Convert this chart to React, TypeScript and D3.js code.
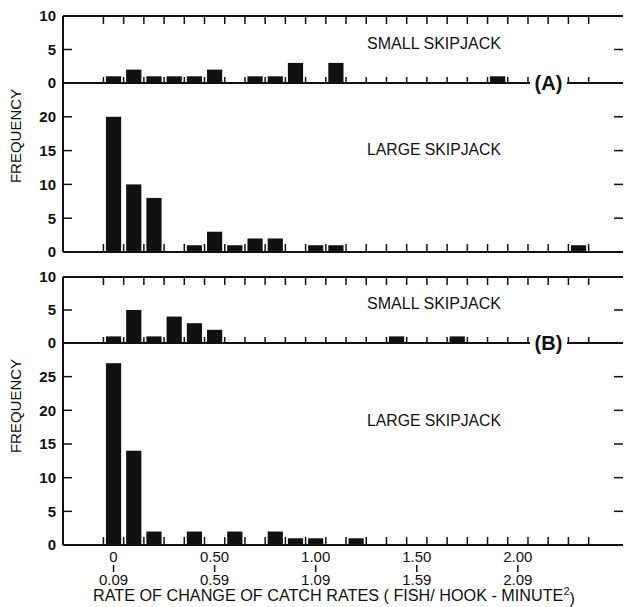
import React from "react";
import * as d3 from "d3";

// frequency per 0.10-wide class (class i covers i*0.1 .. i*0.1+0.09)
const smallA = [1, 2, 1, 1, 1, 2, 0, 1, 1, 3, 0, 3, 0, 0, 0, 0, 0, 0, 0, 1];
const largeA = [20, 10, 8, 0, 1, 3, 1, 2, 2, 0, 1, 1, 0, 0, 0, 0, 0, 0, 0, 0, 0, 0, 0, 1];
const smallB = [1, 5, 1, 4, 3, 2, 0, 0, 0, 0, 0, 0, 0, 0, 1, 0, 0, 1];
const largeB = [27, 14, 2, 0, 2, 0, 2, 0, 2, 1, 1, 0, 1];

const xTopLabels = ["0", "0.50", "1.00", "1.50", "2.00"];
const xBottomLabels = ["0.09", "0.59", "1.09", "1.59", "2.09"];
const xLabelBins = [0, 5, 10, 15, 20];
const binEdges = d3.range(0, 25);

const font = "'Liberation Sans', Arial, sans-serif";
const ink = "#111";

const left = 63;
const right = 623;
const x = d3.scaleLinear().domain([-0.2, 2.57]).range([left, right]);
const binW = x(0.1) - x(0);

const panels = [
  { data: smallA, yMax: 10, top: 16, bottom: 83, ticks: [0, 5, 10], title: "SMALL SKIPJACK", titleY: 43, small: true, tag: "(A)" },
  { data: largeA, yMax: 25, top: 83, bottom: 252, ticks: [0, 5, 10, 15, 20], title: "LARGE SKIPJACK", titleY: 149, small: false, tag: "" },
  { data: smallB, yMax: 10, top: 277, bottom: 343, ticks: [0, 5, 10], title: "SMALL SKIPJACK", titleY: 303, small: true, tag: "(B)" },
  { data: largeB, yMax: 30, top: 343, bottom: 545, ticks: [0, 5, 10, 15, 20, 25], title: "LARGE SKIPJACK", titleY: 420, small: false, tag: "" },
];

const tagGap: [number, number] = [530, 567];

const Panel = ({ p }: { p: (typeof panels)[number] }) => {
  const y = d3.scaleLinear().domain([0, p.yMax]).range([p.bottom, p.top]);
  const bars = p.data.map((v, i) => ({ v, i })).filter(d => d.v > 0);
  const upLen = p.small ? 6 : 8;
  return (
    <g>
      {bars.map(d => (
        <rect
          key={d.i}
          x={x(d.i * 0.1) + 2.5}
          width={binW - 5}
          y={y(d.v)}
          height={y(0) - y(d.v)}
          fill={ink}
        />
      ))}
      {/* left axis */}
      <line x1={left} x2={left} y1={p.top} y2={p.bottom} stroke={ink} strokeWidth={2} />
      {/* bottom axis, broken by the tag */}
      {p.tag ? (
        <g>
          <line x1={left} x2={tagGap[0]} y1={p.bottom} y2={p.bottom} stroke={ink} strokeWidth={2} />
          <line x1={tagGap[1]} x2={right} y1={p.bottom} y2={p.bottom} stroke={ink} strokeWidth={2} />
          <text x={(tagGap[0] + tagGap[1]) / 2} y={p.bottom} dy="0.36em" textAnchor="middle"
            fontFamily={font} fontWeight="bold" fontSize={20} fill={ink}>{p.tag}</text>
        </g>
      ) : (
        <line x1={left} x2={right} y1={p.bottom} y2={p.bottom} stroke={ink} strokeWidth={2} />
      )}
      {binEdges
        .filter(e => !p.tag || x(e * 0.1) < tagGap[0] || x(e * 0.1) > tagGap[1])
        .map(e => (
          <line key={"u" + e} x1={x(e * 0.1)} x2={x(e * 0.1)} y1={p.bottom} y2={p.bottom - upLen}
            stroke={ink} strokeWidth={1.5} />
        ))}
      {p.small && (
        <g>
          <line x1={left} x2={right} y1={p.top} y2={p.top} stroke={ink} strokeWidth={2} />
          {binEdges.map(e => (
            <line key={"d" + e} x1={x(e * 0.1)} x2={x(e * 0.1)} y1={p.top} y2={p.top + 8}
              stroke={ink} strokeWidth={1.5} />
          ))}
        </g>
      )}
      {p.ticks.map(t => (
        <g key={t}>
          {t > 0 && y(t) > p.top + 2 && (
            <g>
              <line x1={left} x2={left + 9} y1={y(t)} y2={y(t)} stroke={ink} strokeWidth={1.5} />
              <line x1={right - 9} x2={right} y1={y(t)} y2={y(t)} stroke={ink} strokeWidth={1.5} />
            </g>
          )}
          <text x={56} y={y(t)} dy="0.36em" textAnchor="end" fontFamily={font} fontWeight="bold"
            fontSize={15} fill={ink}>{t}</text>
        </g>
      ))}
      <text x={367} y={p.titleY} dy="0.36em" textLength={134} lengthAdjust="spacingAndGlyphs"
        fontFamily={font} fontSize={16} fill={ink}>{p.title}</text>
    </g>
  );
};

export default function App() {
  return (
    <svg width={624} height={607} style={{ position: "absolute", left: 0, top: 0, background: "#fff" }}>
      <rect width={624} height={607} fill="#fff" />
      {panels.map((p, i) => <Panel key={i} p={p} />)}
      {[136, 406].map(cy => (
        <text key={cy} transform={`translate(16,${cy}) rotate(-90)`} dy="0.36em" textAnchor="middle"
          fontFamily={font} fontSize={15} fill={ink}>FREQUENCY</text>
      ))}
      {xLabelBins.map((b, i) => {
        const cx = x(b * 0.1 + 0.05);
        return (
          <g key={b}>
            <text x={cx} y={557} dy="0.36em" textAnchor="middle" fontFamily={font} fontSize={15} fill={ink}>
              {xTopLabels[i]}
            </text>
            <line x1={cx} x2={cx} y1={565} y2={572} stroke={ink} strokeWidth={1.5} />
            <text x={cx} y={580} dy="0.36em" textAnchor="middle" fontFamily={font} fontSize={15} fill={ink}>
              {xBottomLabels[i]}
            </text>
          </g>
        );
      })}
      <text x={93} y={595} dy="0.36em" textLength={482} lengthAdjust="spacingAndGlyphs"
        fontFamily={font} fontSize={16} fill={ink}>
        RATE OF CHANGE OF CATCH RATES ( FISH/ HOOK - MINUTE
        <tspan fontSize={11} dy="-0.55em">2</tspan>
        <tspan dy="0.55em">)</tspan>
      </text>
    </svg>
  );
}
